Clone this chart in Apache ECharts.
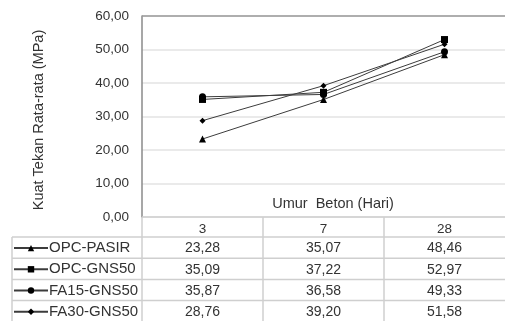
<!DOCTYPE html>
<html>
<head>
<meta charset="utf-8">
<script src="https://cdn.jsdelivr.net/npm/echarts@6/dist/echarts.min.js"></script>
<style>
  html, body { margin: 0; padding: 0; background: #fff; }
  #chart { width: 505px; height: 321px; }
</style>
</head>
<body>
<div id="chart"></div>
<script>
const categories = ['3', '7', '28']
const seriesNames = ['OPC-PASIR', 'OPC-GNS50', 'FA15-GNS50', 'FA30-GNS50']
const opcPasir = [23.28, 35.07, 48.46]
const opcGns50 = [35.09, 37.22, 52.97]
const fa15Gns50 = [35.87, 36.58, 49.33]
const fa30Gns50 = [28.76, 39.20, 51.58]
const yTicks = [0, 10, 20, 30, 40, 50, 60]

const allValues = [opcPasir, opcGns50, fa15Gns50, fa30Gns50]
const symbols = ['triangle', 'rect', 'circle', 'diamond']
const symbolSizes = [7, 7, 7, 6]

const fmt = v => v.toFixed(2).replace('.', ',')

const gridLeft = 142
const gridTop = 16
const gridBottom = 217
const headerH = 20
const tableLeft = 12
const rowH = 21.2
const textColor = '#333'
const tableLine = '#cfcfcf'
const font = 'Liberation Sans'

const chart = echarts.init(document.getElementById('chart'))

// one legend per table row, so each row label sits in its own cell
const legends = seriesNames.map((name, r) => ({
  orient: 'horizontal',
  left: tableLeft + 1,
  top: gridBottom + headerH + r * rowH + rowH / 2 - 7,
  padding: 0,
  itemWidth: 34,
  itemHeight: 8,
  textStyle: {
    fontFamily: font,
    fontSize: 15,
    color: textColor,
    padding: [0, 0, 0, -4]
  },
  data: [name]
}))

const option = {
  animation: false,
  grid: {
    left: gridLeft,
    right: 0,
    top: gridTop,
    bottom: 321 - gridBottom
  },
  legend: legends,
  xAxis: {
    type: 'category',
    data: categories,
    boundaryGap: true,
    axisLine: { show: false },
    axisTick: { show: false },
    axisLabel: {
      color: textColor,
      fontFamily: font,
      fontSize: 13.5,
      margin: 5
    }
  },
  yAxis: {
    type: 'value',
    min: yTicks[0],
    max: yTicks[yTicks.length - 1],
    interval: 10,
    name: 'Kuat Tekan Rata-rata (MPa)',
    nameLocation: 'middle',
    nameGap: 96,
    nameTextStyle: {
      color: textColor,
      fontFamily: font,
      fontSize: 14.5,
      padding: [0, 7, 0, 0]
    },
    axisLine: {
      show: true,
      lineStyle: { color: '#8a8a8a', width: 1.5 }
    },
    axisTick: { show: false },
    axisLabel: {
      color: textColor,
      fontFamily: font,
      fontSize: 13.5,
      margin: 13,
      formatter: v => fmt(v)
    },
    splitLine: {
      show: true,
      lineStyle: { color: '#e3e3e3', width: 1.5 }
    }
  },
  series: seriesNames.map((name, i) => ({
    name: name,
    type: 'line',
    data: allValues[i],
    symbol: symbols[i],
    symbolSize: symbolSizes[i],
    lineStyle: { color: '#3c3c3c', width: 1 },
    itemStyle: { color: '#000' },
    z: 3
  }))
}

chart.setOption(option)

// data table and plot frame, placed from the axes
const xs = categories.map(c => chart.convertToPixel({ xAxisIndex: 0 }, c))
const band = xs[1] - xs[0]
const yTop = chart.convertToPixel({ yAxisIndex: 0 }, yTicks[yTicks.length - 1])
const yZero = chart.convertToPixel({ yAxisIndex: 0 }, 0)
const rightEdge = 505
const graphics = []

const hLine = (x1, x2, y, color, w) => graphics.push({
  type: 'line', silent: true, z: 10,
  shape: { x1: x1, y1: y, x2: x2, y2: y },
  style: { stroke: color, lineWidth: w }
})
const vLine = (x, y1, y2, color, w) => graphics.push({
  type: 'line', silent: true, z: 10,
  shape: { x1: x, y1: y1, x2: x, y2: y2 },
  style: { stroke: color, lineWidth: w }
})

// plot top border
hLine(gridLeft, rightEdge, yTop, '#9a9a9a', 1.5)

// table lines
const headerBottom = yZero + headerH
hLine(gridLeft, rightEdge, yZero, tableLine, 1.5)
for (let r = 0; r < seriesNames.length; r++) {
  hLine(tableLeft, rightEdge, headerBottom + r * rowH, tableLine, 1.5)
}
vLine(tableLeft, headerBottom, 321, tableLine, 1.5)
vLine(gridLeft, yZero, 321, tableLine, 1.5)
for (let c = 1; c < categories.length; c++) {
  vLine(xs[c] - band / 2, yZero, 321, tableLine, 1.5)
}

// cell values
allValues.forEach((vals, r) => {
  vals.forEach((v, c) => {
    graphics.push({
      type: 'text', silent: true, z: 11,
      x: xs[c],
      y: headerBottom + r * rowH + rowH / 2 + 1,
      style: {
        text: fmt(v),
        fill: textColor,
        font: '14px "Liberation Sans"',
        align: 'center',
        verticalAlign: 'middle'
      }
    })
  })
})

// x axis title inside the plot
graphics.push({
  type: 'text', silent: true, z: 11,
  x: 333,
  y: yZero - 13,
  style: {
    text: 'Umur  Beton (Hari)',
    fill: textColor,
    font: '14.5px "Liberation Sans"',
    align: 'center',
    verticalAlign: 'middle'
  }
})

chart.setOption({ graphic: graphics })

window.addEventListener('resize', () => {
  chart.resize()
})
</script>
</body>
</html>
